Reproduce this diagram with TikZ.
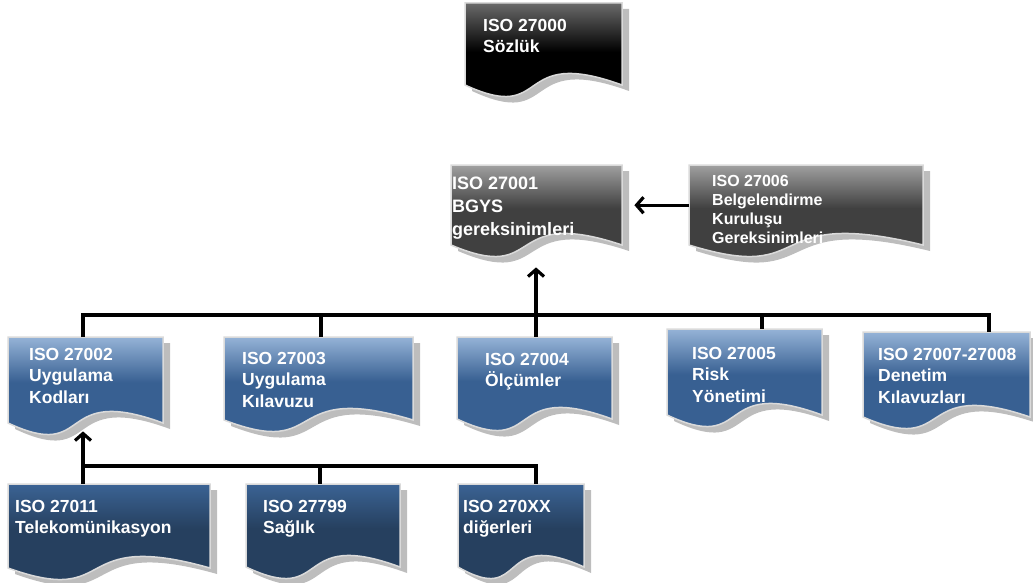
\documentclass[tikz,border=0pt]{standalone}
\usepackage{fontspec}
\setmainfont{Liberation Sans}
\usepackage{tikz}
\usetikzlibrary{positioning,arrows.meta}

\definecolor{blueBase}{HTML}{386092}
\definecolor{blueTop}{HTML}{95B3D7}
\definecolor{navyBase}{HTML}{26405F}
\definecolor{navyTop}{HTML}{3B6394}
\definecolor{grayBase}{HTML}{404040}
\definecolor{grayTop}{HTML}{A0A0A0}
\definecolor{blackTop}{HTML}{6A6A6A}
\definecolor{docrim}{HTML}{DADADA}
\definecolor{docshade}{HTML}{BDBDBD}

\pgfdeclareverticalshading{blueglass}{100bp}{color(0bp)=(blueBase); color(57bp)=(blueBase); color(75bp)=(blueTop); color(100bp)=(blueTop)}
\pgfdeclareverticalshading{navyglass}{100bp}{color(0bp)=(navyBase); color(57bp)=(navyBase); color(75bp)=(navyTop); color(100bp)=(navyTop)}
\pgfdeclareverticalshading{grayglass}{100bp}{color(0bp)=(grayBase); color(57bp)=(grayBase); color(75bp)=(grayTop); color(100bp)=(grayTop)}
\pgfdeclareverticalshading{blackglass}{100bp}{color(0bp)=(black); color(55bp)=(black); color(75bp)=(blackTop); color(100bp)=(blackTop)}

% sheet with a wavy lower edge, top left corner at the origin
\newcommand\docoutline[2]{(0,0) -- (#1,0) -- (#1,-#2) .. controls (0.3*#1,-#2+40) and (0.55*#1,-#2-40) .. (0,-#2) -- cycle}

\tikzset{
	pics/doc/.style n args={3}{
		code={
			\fill[docshade, shift={(7,-6)}] \docoutline{#1}{#2};
			\shadedraw[shading=#3, draw=docrim, line width=1.5pt] \docoutline{#1}{#2};
			\node[inner sep=0pt, minimum width=#1pt, minimum height=#2pt, anchor=north west] (-box) at (0,0) {};
		}
	},
	doctext/.style = {inner sep=0pt, align=left, text=white, font=\bfseries\fontsize{17.5}{21.5}\selectfont},
	link/.style = {line width=3.2pt},
	arrow/.style = {line width=3.2pt, -{Straight Barb[length=7pt,width=16pt]}}
}

\begin{document}
\begin{tikzpicture}[x=1pt,y=1pt]
	\useasboundingbox (0,0) rectangle (1033,-583);

	\pic (d27000) at (465,-3) {doc={157}{82}{blackglass}};
	\pic (d27001) at (451,-165) {doc={171}{80}{grayglass}};
	\pic (d27006) at (689,-165) {doc={234}{80}{grayglass}};

	\pic (d27002) at (8,-337) {doc={155}{86}{blueglass}};
	\pic (d27003) at (224,-337) {doc={189}{83}{blueglass}};
	\pic (d27004) at (457,-337) {doc={155}{82}{blueglass}};
	\pic (d27005) at (667,-329) {doc={155}{86}{blueglass}};
	\pic (d27007) at (863,-332) {doc={167}{85}{blueglass}};

	\pic (d27011) at (8,-484) {doc={202}{84}{navyglass}};
	\pic (d27799) at (246,-484) {doc={154}{83}{navyglass}};
	\pic (d270XX) at (458,-484) {doc={126}{83}{navyglass}};

	\node[doctext, below right=16pt and 18pt of d27000-box.north west] (t27000) {ISO 27000\\Sözlük};
	\node[doctext, font=\bfseries\fontsize{18}{23}\selectfont, below right=12pt and 1pt of d27001-box.north west] (t27001) {ISO 27001\\BGYS\\gereksinimleri};
	\node[doctext, font=\bfseries\fontsize{16}{19}\selectfont, below right=10pt and 23pt of d27006-box.north west] (t27006) {ISO 27006\\Belgelendirme\\Kuruluşu\\Gereksinimleri};
	\node[doctext, below right=11pt and 21pt of d27002-box.north west] (t27002) {ISO 27002\\Uygulama\\Kodları};
	\node[doctext, below right=15pt and 18pt of d27003-box.north west] (t27003) {ISO 27003\\Uygulama\\Kılavuzu};
	\node[doctext, below right=16pt and 28pt of d27004-box.north west] (t27004) {ISO 27004\\Ölçümler};
	\node[doctext, below right=18pt and 25pt of d27005-box.north west] (t27005) {ISO 27005\\Risk\\Yönetimi};
	\node[doctext, below right=16pt and 15pt of d27007-box.north west] (t27007) {ISO 27007-27008\\Denetim\\Kılavuzları};
	\node[doctext, below right=16pt and 7pt of d27011-box.north west] (t27011) {ISO 27011\\Telekomünikasyon};
	\node[doctext, below right=16pt and 17pt of d27799-box.north west] (t27799) {ISO 27799\\Sağlık};
	\node[doctext, below right=16pt and 5pt of d270XX-box.north west] (t270XX) {ISO 270XX\\diğerleri};

	% taps on the two bus lines
	\coordinate (bus2) at (83,-315);
	\coordinate (bus3) at (321,-315);
	\coordinate (bus4) at (536,-315);
	\coordinate (bus5) at (762,-315);
	\coordinate (bus7) at (989,-315);
	\coordinate (sub11) at (83,-466);
	\coordinate (sub799) at (320,-466);
	\coordinate (subXX) at (536,-466);

	\draw[link] (bus2 |- d27002-box.north) -- (bus2) -- (bus7) -- (bus7 |- d27007-box.north);
	\draw[link] (bus3) -- (bus3 |- d27003-box.north);
	\draw[link] (bus4) -- (bus4 |- d27004-box.north);
	\draw[link] (bus5) -- (bus5 |- d27005-box.north);
	\draw[arrow, shorten >=22pt] (bus4) -- (bus4 |- d27001-box.south);
	\draw[arrow, shorten >=12pt] (d27006-box.west) -- (d27001-box.east);

	\draw[link] (sub11) -- (subXX) -- (subXX |- d270XX-box.north);
	\draw[link] (sub799) -- (sub799 |- d27799-box.north);
	\draw[arrow, shorten >=8pt] (sub11 |- d27011-box.north) -- (sub11 |- d27002-box.south);
\end{tikzpicture}
\end{document}
